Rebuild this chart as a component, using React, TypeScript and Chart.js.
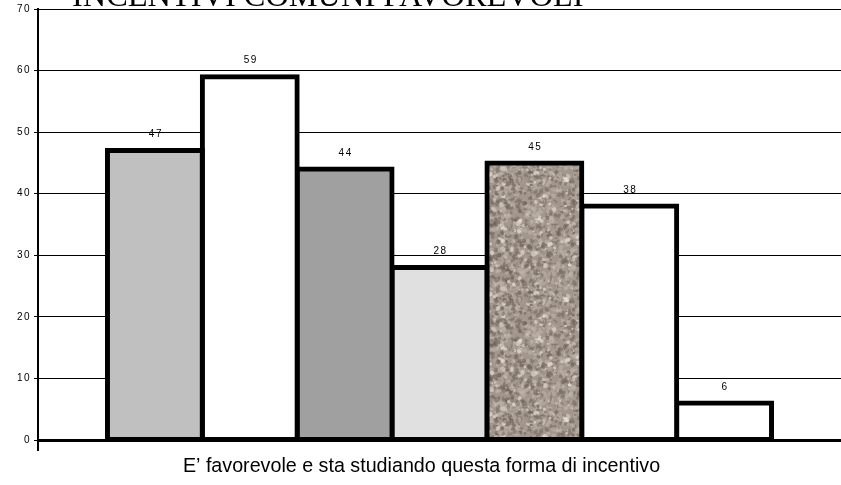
import React, { useEffect, useRef } from 'react';
import { Chart, registerables } from 'chart.js';

Chart.register(...registerables);

const chartTitle = 'INCENTIVI COMUNI FAVOREVOLI';
const categories = ['E’ favorevole e sta studiando questa forma di incentivo'];
const seriesNames = ['Serie 1', 'Serie 2', 'Serie 3', 'Serie 4', 'Serie 5', 'Serie 6', 'Serie 7'];
const seriesValues = [47, 59, 44, 28, 45, 38, 6];
const yMin = 0;
const yMax = 70;
const yStep = 10;
const seriesFills = ['#c0c0c0', '#ffffff', '#a0a0a0', '#e0e0e0', 'granite', '#ffffff', '#ffffff'];

function makeGranite(): CanvasPattern | string {
  const size = 120;
  const c = document.createElement('canvas');
  c.width = size;
  c.height = size;
  const g = c.getContext('2d');
  if (!g) return '#a69a90';
  g.fillStyle = '#a3978d';
  g.fillRect(0, 0, size, size);
  let s = 987654321;
  const rnd = () => {
    s = (s * 1103515245 + 12345) & 0x7fffffff;
    return s / 0x7fffffff;
  };
  for (let i = 0; i < 1700; i++) {
    const x = rnd() * size;
    const y = rnd() * size;
    const r = 0.7 + rnd() * 1.8;
    const v = rnd();
    g.fillStyle =
      v < 0.42
        ? 'rgba(108,96,87,0.5)'
        : v < 0.88
        ? 'rgba(196,186,176,0.5)'
        : 'rgba(232,226,218,0.65)';
    for (const dx of [-size, 0, size]) {
      for (const dy of [-size, 0, size]) {
        g.beginPath();
        g.ellipse(x + dx, y + dy, r * (0.7 + rnd() * 0.8), r, rnd() * Math.PI, 0, Math.PI * 2);
        g.fill();
      }
    }
  }
  return g.createPattern(c, 'repeat') || '#a69a90';
}

const FONT_SANS = '"Liberation Sans", Arial, Helvetica, sans-serif';
const FONT_SERIF = '"Liberation Serif", "Times New Roman", Times, serif';

const decorPlugin = {
  id: 'decor',
  beforeDraw(chart: any) {
    // Excel-like spaced digits for the y ticks and value labels
    (chart.ctx as any).letterSpacing = '1.5px';
  },
  afterDatasetsDraw(chart: any) {
    const ctx = chart.ctx;
    ctx.save();
    ctx.fillStyle = '#000';
    ctx.font = '10px ' + FONT_SANS;
    ctx.textAlign = 'center';
    ctx.textBaseline = 'middle';
    chart.data.datasets.forEach((ds: any, i: number) => {
      const meta = chart.getDatasetMeta(i);
      meta.data.forEach((el: any, j: number) => {
        ctx.fillText(String(ds.data[j]), el.x + 1, el.y - 16);
      });
    });
    ctx.restore();
    (ctx as any).letterSpacing = '0px';
  },
  afterDraw(chart: any) {
    const ctx = chart.ctx;
    const area = chart.chartArea;
    ctx.save();
    (ctx as any).letterSpacing = '0px';
    // y-axis line overshoot below zero
    ctx.strokeStyle = '#000';
    ctx.lineWidth = 2;
    ctx.beginPath();
    ctx.moveTo(area.left, area.bottom);
    ctx.lineTo(area.left, area.bottom + 11);
    ctx.stroke();
    // clipped title
    ctx.fillStyle = '#000';
    ctx.font = '32.4px ' + FONT_SERIF;
    ctx.textAlign = 'left';
    ctx.textBaseline = 'alphabetic';
    ctx.fillText(chartTitle, 72, 6);
    ctx.restore();
  },
};

export default function App() {
  const canvasRef = useRef<HTMLCanvasElement | null>(null);

  useEffect(() => {
    const canvas = canvasRef.current;
    if (!canvas) return;
    const granite = makeGranite();
    const chart = new Chart(canvas, {
      type: 'bar',
      data: {
        labels: categories,
        datasets: seriesValues.map((v, i) => ({
          label: seriesNames[i],
          data: [v],
          backgroundColor: seriesFills[i] === 'granite' ? granite : seriesFills[i],
          borderColor: '#000',
          borderWidth: 5,
          borderSkipped: false,
          inflateAmount: 2.5,
          categoryPercentage: 0.827,
          barPercentage: 1,
        })) as any,
      },
      options: {
        animation: false,
        responsive: false,
        maintainAspectRatio: false,
        layout: { padding: { top: 3, right: 0, left: 0, bottom: 0 } },
        plugins: {
          legend: { display: false },
          tooltip: { enabled: false },
          title: { display: false },
        },
        scales: {
          x: {
            grid: { display: false, drawTicks: false },
            border: { display: true, color: '#000', width: 3 },
            ticks: {
              z: 1,
              color: '#000',
              padding: 15,
              labelOffset: -18,
              font: { family: FONT_SANS, size: 19.7 },
            },
            afterFit: (s: any) => {
              s.height = 45;
            },
          },
          y: {
            min: yMin,
            max: yMax,
            ticks: {
              stepSize: yStep,
              color: '#000',
              padding: 3,
              font: { family: FONT_SANS, size: 10 },
            },
            grid: { color: '#000', lineWidth: 1, tickLength: 4, drawTicks: true },
            border: { display: true, color: '#000', width: 2 },
            afterFit: (s: any) => {
              s.width = 38;
            },
          },
        },
      } as any,
      plugins: [decorPlugin],
    });
    return () => chart.destroy();
  }, []);

  return (
    <div style={{ position: 'fixed', left: 0, top: 0, width: 841, height: 485, background: '#fff' }}>
      <canvas ref={canvasRef} width={841} height={485} style={{ display: 'block' }} />
    </div>
  );
}
